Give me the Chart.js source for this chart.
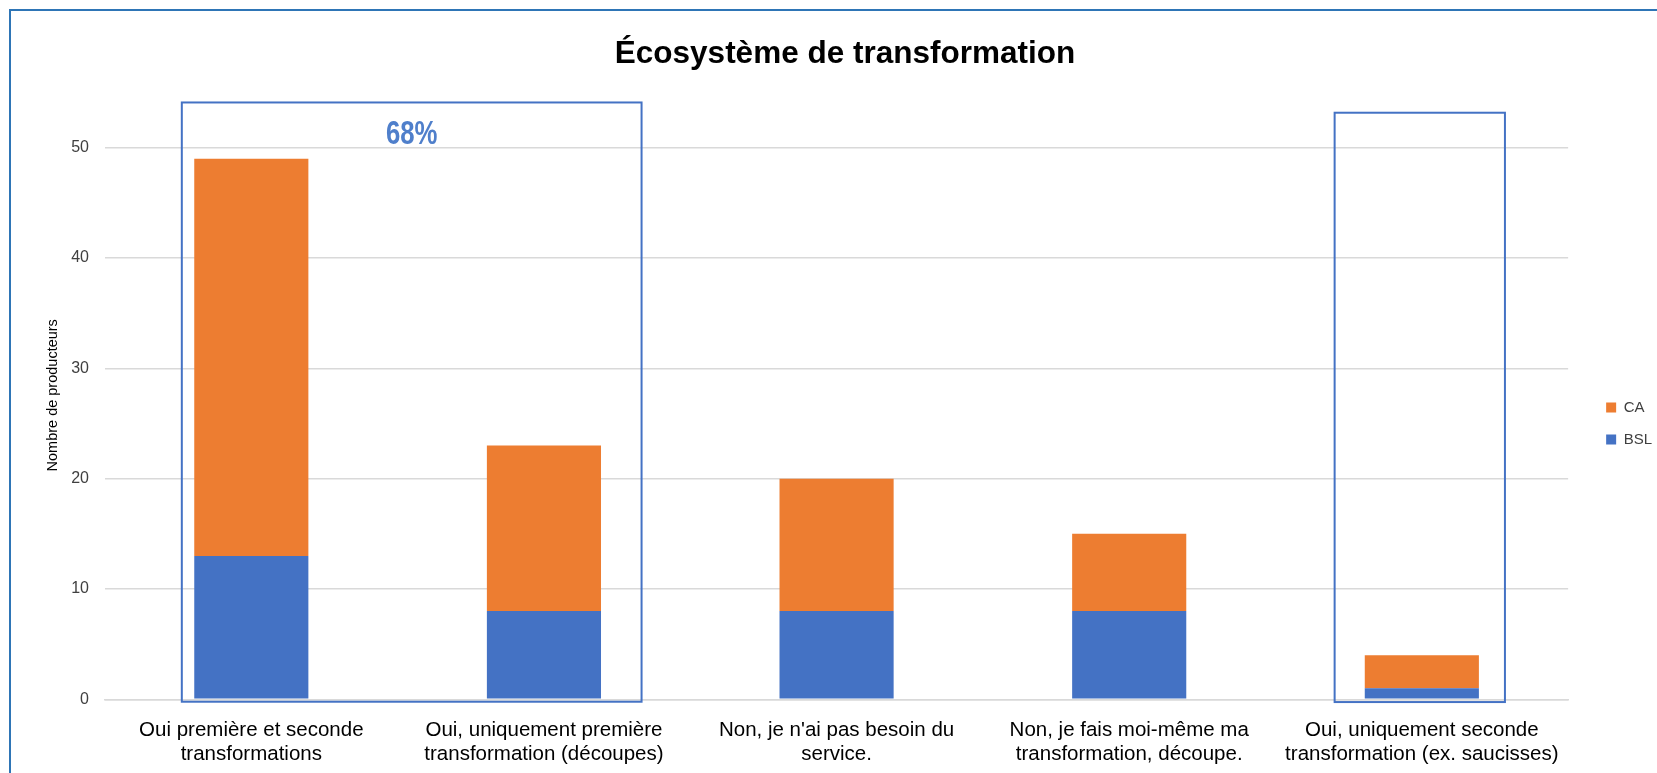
<!DOCTYPE html>
<html lang="fr">
<head>
<meta charset="utf-8">
<title>Écosystème de transformation</title>
<script src="https://cdn.jsdelivr.net/npm/chart.js@4.4.1/dist/chart.umd.min.js"></script>
<style>
  html, body { margin: 0; padding: 0; background: #fff; overflow: hidden; }
  #wrap { position: relative; width: 1657px; height: 773px; }
  #frame {
    position: absolute; left: 9px; top: 9px; right: -10px; bottom: -10px;
    border-left: 2px solid #2E75B6; border-top: 2px solid #2E75B6;
    pointer-events: none;
  }
  canvas { display: block; }
</style>
</head>
<body>
<div id="wrap">
  <canvas id="chart" width="1657" height="773"></canvas>
  <div id="frame"></div>
</div>
<script>
// Data
const categories = [
    ['Oui première et seconde', 'transformations'],
    ['Oui, uniquement première', 'transformation (découpes)'],
    ['Non, je n\'ai pas besoin du', 'service.'],
    ['Non, je fais moi-même ma', 'transformation, découpe.'],
    ['Oui, uniquement seconde', 'transformation (ex. saucisses)']
];
const bslValues = [13, 8, 8, 8, 1];
const caValues = [36, 15, 12, 7, 3];
const yTicks = [0, 10, 20, 30, 40, 50];
const highlightLabel = '68%';

const FONT = "'Liberation Sans', Arial, sans-serif";
Chart.defaults.font.family = FONT;

// Frames drawn over the chart, in axis units (category index / value)
const highlightBoxes = [
    { from: -0.2375, to: 1.3336, top: 54.1, bottom: -0.22, label: highlightLabel, labelY: 50.3 },
    { from: 3.702, to: 4.284, top: 53.17, bottom: -0.25 }
];

const highlightPlugin = {
    id: 'highlightBoxes',
    afterDatasetsDraw(chart) {
        const { ctx, scales: { x, y } } = chart;
        ctx.save();
        ctx.strokeStyle = '#4472C4';
        ctx.lineWidth = 2;
        highlightBoxes.forEach(b => {
            const left = x.getPixelForValue(b.from);
            const right = x.getPixelForValue(b.to);
            const top = y.getPixelForValue(b.top);
            const bottom = y.getPixelForValue(b.bottom);
            ctx.strokeRect(left, top, right - left, bottom - top);
            if (b.label) {
                ctx.save();
                ctx.translate((left + right) / 2, y.getPixelForValue(b.labelY));
                ctx.scale(0.78, 1); // narrow bold look
                ctx.fillStyle = '#4F7FCB';
                ctx.font = 'bold 33px ' + FONT;
                ctx.textAlign = 'center';
                ctx.textBaseline = 'alphabetic';
                ctx.fillText(b.label, 0, 0);
                ctx.restore();
            }
        });
        ctx.restore();
    }
};

// Leave a gap between plot area and the legend on the right
const legendGap = {
    id: 'legendGap',
    beforeInit(chart) {
        const fit = chart.legend.fit;
        chart.legend.fit = function () {
            fit.bind(chart.legend)();
            this.width += 16;
        };
    },
    afterLayout(chart) {
        chart.legend.left += 21;
    }
};

let ctx = document.getElementById('chart').getContext('2d');
let chart = new Chart(ctx, {
    type: 'bar',
    data: {
        labels: categories,
        datasets: [{
            label: 'BSL',
            data: bslValues,
            backgroundColor: '#4472C4',
            borderWidth: 0,
            barPercentage: 0.39,
            categoryPercentage: 1
        }, {
            label: 'CA',
            data: caValues,
            backgroundColor: '#ED7D31',
            borderWidth: 0,
            barPercentage: 0.39,
            categoryPercentage: 1
        }]
    },
    options: {
        responsive: false,
        animation: false,
        layout: { padding: { left: 33, right: 0, top: 0, bottom: 0 } },
        plugins: {
            title: {
                display: true,
                text: 'Écosystème de transformation',
                color: '#000000',
                font: { size: 31.5, weight: 'bold' },
                padding: { top: 35, bottom: 74.9 }
            },
            legend: {
                position: 'right',
                fullSize: false,
                reverse: true,
                labels: {
                    boxWidth: 10,
                    boxHeight: 10,
                    padding: 17,
                    color: '#404040',
                    font: { size: 15 }
                }
            },
            tooltip: { enabled: false }
        },
        scales: {
            x: {
                stacked: true,
                grid: { display: false, drawTicks: false },
                border: { color: '#D9D9D9', width: 1.5 },
                ticks: {
                    padding: 18.4,
                    color: '#000000',
                    maxRotation: 0,
                    autoSkip: false,
                    font: { size: 20.5, lineHeight: 1.2 }
                },
                afterFit(scale) { scale.height = 73.7; }
            },
            y: {
                stacked: true,
                min: yTicks[0],
                max: yTicks[yTicks.length - 1],
                ticks: {
                    stepSize: yTicks[1] - yTicks[0],
                    padding: 16,
                    color: '#404040',
                    font: { size: 16 }
                },
                grid: { color: '#D9D9D9', lineWidth: 1.5, drawTicks: false },
                border: { display: false },
                title: {
                    display: true,
                    text: '              Nombre de producteurs',
                    color: '#000000',
                    padding: { top: 11.3, bottom: 0 },
                    font: { size: 14.5 }
                },
                afterFit(scale) { scale.width = 72; }
            }
        }
    },
    plugins: [highlightPlugin, legendGap]
});
</script>
</body>
</html>
